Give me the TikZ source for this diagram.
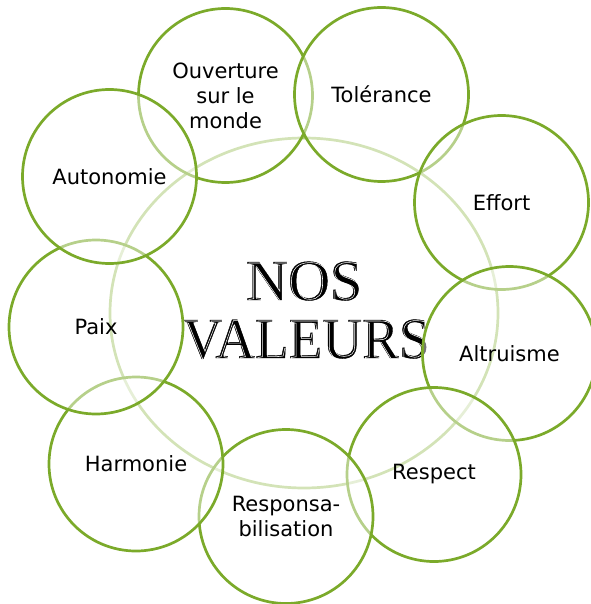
\documentclass[tikz,border=0pt]{standalone}
\usepackage{fontspec}
\setmainfont{DejaVu Sans}
\newfontfamily\titlefont{Liberation Serif}
\usetikzlibrary{shapes.geometric}
\definecolor{vgreen}{HTML}{7BAA2A}
\definecolor{vlight}{HTML}{AFCD7C}
\newcommand\engrfill[1]{\special{pdf:literal direct 2 Tr 0.4 w}#1\special{pdf:literal direct 0 Tr}}
\newcommand\engrline[1]{\special{pdf:literal direct 1 Tr 0.55 w}#1\special{pdf:literal direct 0 Tr}}
\begin{document}
\begin{tikzpicture}[x=1pt,y=-1pt,
  valeur/.style={circle, draw=vgreen, line width=2.7pt, fill=white, fill opacity=0.45,
    draw opacity=1, text opacity=1, minimum size=174pt, inner sep=0pt, align=center,
    font=\fontsize{21}{25}\selectfont},
  titre/.style={anchor=base, inner sep=0pt, font=\titlefont\fontsize{58}{58}\selectfont},
  inline/.style={titre, text=white}]
\useasboundingbox (0,0) rectangle (590,604);
% central ellipse and title
\node (centre) [ellipse, draw=vlight, line width=2.7pt, minimum width=388pt,
  minimum height=350pt, inner sep=0pt] at (304,313) {};
\node (nos) [titre] at (304,300) {\engrfill{NOS}};
\node (nosl) [inline] at (305.2,301) {\engrline{NOS}};
\node (valeurs) [titre, xscale=0.95] at (306,358) {\engrfill{VALEURS}};
\node (valeursl) [inline, xscale=0.95] at (307.2,359) {\engrline{VALEURS}};
% outer circles, each drawn over the previous one
\node (ouverture) [valeur] at (225.5,95.5) {Ouverture\\sur le\\monde};
\node (tolerance) [valeur] at (381.5,94.5) {Tolérance};
\node (effort) [valeur] at (501.5,202.5) {Effort};
\node (altruisme) [valeur] at (509.5,353.5) {Altruisme};
\node (respect) [valeur] at (434,474.5) {Respect};
\node (respons) [valeur] at (286,516.5) {Responsa-\\bilisation};
\node (harmonie) [valeur] at (136,464) {Harmonie};
\node (paix) [valeur] at (96,327) {Paix};
\node (autonomie) [valeur] at (109.5,176.5) {Autonomie};
\end{tikzpicture}
\end{document}
